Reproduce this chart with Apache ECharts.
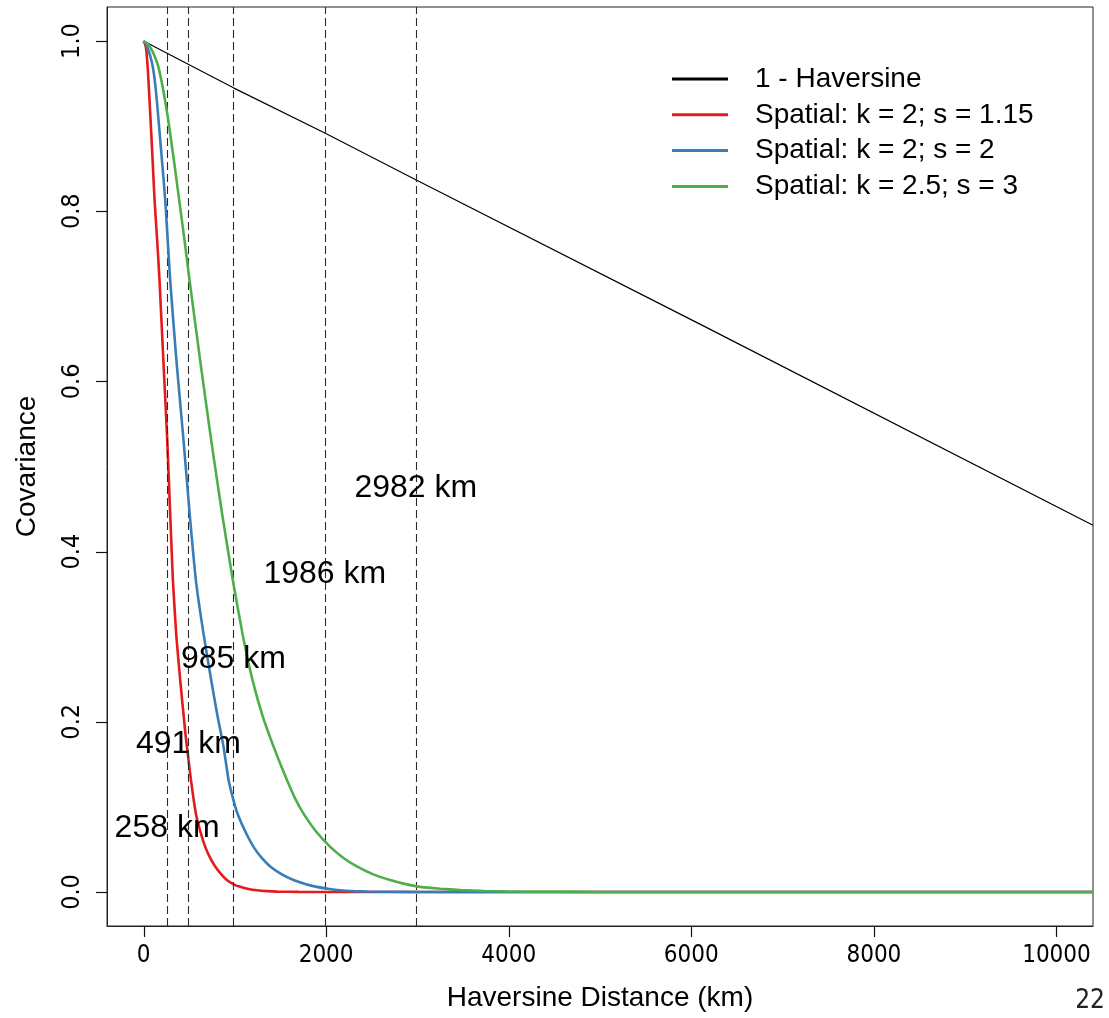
<!DOCTYPE html>
<html>
<head>
<meta charset="utf-8">
<script src="https://cdn.jsdelivr.net/npm/echarts@6/dist/echarts.min.js"></script>
<style>
html,body{margin:0;padding:0;background:#fff;}
#chart{width:1109px;height:1018px;}
</style>
</head>
<body>
<div id="chart"></div>
<script>
// ---- data ----
const seriesNames = ['1 - Haversine', 'Spatial: k = 2; s = 1.15', 'Spatial: k = 2; s = 2', 'Spatial: k = 2.5; s = 3'];
const seriesColors = ['#000000', '#E41A1C', '#377EB8', '#4DAF4A'];

const haversineLine = [[0,1.0],[985,0.945],[1986,0.892],[2982,0.837],[6100,0.667],[10400,0.431]];

const redCurve = [[0,1.0],[15,0.997],[30,0.99],[48,0.965],[66,0.93],[95,0.87],[121,0.813],[150,0.765],[175,0.719],
  [215,0.63],[260,0.531],[290,0.45],[322,0.366],[360,0.3],[402,0.249],[460,0.185],[519,0.132],[574,0.092],
  [625,0.07],[676,0.053],[730,0.04],[785,0.030],[850,0.021],[913,0.014],[985,0.009],[1059,0.006],[1150,0.0035],
  [1242,0.002],[1350,0.001],[1461,0.0004],[1700,0.0001],[2000,0],[10400,0]];

const blueCurve = [[0,1.0],[25,0.997],[50,0.99],[75,0.982],[103,0.969],[125,0.952],[146,0.93],[190,0.875],[238,0.813],
  [292,0.719],[360,0.625],[438,0.531],[505,0.445],[574,0.366],[655,0.305],[741,0.249],[810,0.207],[876,0.171],
  [931,0.132],[985,0.108],[1030,0.092],[1115,0.071],[1205,0.053],[1295,0.04],[1388,0.030],[1510,0.021],[1643,0.014],
  [1770,0.0095],[1899,0.006],[2020,0.0038],[2154,0.002],[2300,0.001],[2447,0.0005],[2700,0.0002],[3000,0],[10400,0]];

const greenCurve = [[0,1.0],[45,0.997],[92,0.989],[130,0.98],[164,0.969],[215,0.943],[267,0.91],[330,0.862],[391,0.813],
  [450,0.765],[504,0.719],[620,0.625],[741,0.531],[860,0.445],[979,0.366],[1085,0.303],[1194,0.249],[1310,0.205],
  [1424,0.171],[1500,0.15],[1570,0.132],[1660,0.11],[1753,0.092],[1890,0.071],[2045,0.053],[2190,0.04],[2337,0.030],
  [2510,0.021],[2702,0.014],[2860,0.0095],[3031,0.006],[3250,0.0038],[3469,0.0023],[3730,0.0012],[4000,0.0005],
  [4500,0.0002],[5000,0],[10400,0]];

const cutoffDistances = [258, 491, 985, 1986, 2982];
const cutoffLabels = ['258 km', '491 km', '985 km', '1986 km', '2982 km'];
const cutoffLabelY = [0.075, 0.174, 0.274, 0.373, 0.474];

const xTicks = [0, 2000, 4000, 6000, 8000, 10000];
const yTicks = [0, 0.2, 0.4, 0.6, 0.8, 1.0];

const xMin = -400, xMax = 10400, yMin = -0.04, yMax = 1.04;

// ---- chart ----
const chart = echarts.init(document.getElementById('chart'), null, {renderer: 'canvas'});
const narrow = "'Liberation Sans Narrow', 'DejaVu Sans Condensed', 'Liberation Sans', sans-serif";
const sans = "'Liberation Sans', Arial, sans-serif";

const curves = [haversineLine, redCurve, blueCurve, greenCurve];
const lineSeries = curves.map((d, i) => ({
  name: seriesNames[i],
  type: 'line',
  data: d,
  showSymbol: false,
  smooth: i === 0 ? false : 0.15,
  clip: true,
  color: seriesColors[i],
  lineStyle: {width: i === 0 ? 1.2 : 2.6, color: seriesColors[i]},
  z: 3 + i
}));

const annotationSeries = {
  name: 'cutoffs',
  type: 'scatter',
  symbolSize: 1,
  itemStyle: {opacity: 0},
  data: cutoffDistances.map((d, i) => ({value: [d, cutoffLabelY[i]], name: cutoffLabels[i]})),
  label: {
    show: true,
    position: 'inside',
    formatter: p => p.name,
    fontSize: 32,
    fontFamily: sans,
    color: '#000',
    opacity: 1
  },
  emphasis: {disabled: true},
  markLine: {
    silent: true,
    symbol: 'none',
    label: {show: false},
    lineStyle: {type: [8, 4], color: '#2a2a2a', width: 1.1, opacity: 1},
    data: cutoffDistances.map(d => ({xAxis: d}))
  },
  z: 10
};

chart.setOption({
  animation: false,
  backgroundColor: '#fff',
  grid: {left: 107, right: 16, top: 7, bottom: 92, show: true, borderColor: '#222', borderWidth: 1},
  xAxis: {
    type: 'value', min: xMin, max: xMax,
    name: 'Haversine Distance (km)', nameLocation: 'middle', nameGap: 58,
    nameTextStyle: {fontSize: 28, fontFamily: sans, color: '#000'},
    axisLine: {show: true, onZero: false, lineStyle: {color: '#222', width: 1}},
    splitLine: {show: false},
    axisTick: {show: false},
    axisLabel: {show: true, customValues: xTicks, fontSize: 24, fontFamily: narrow, color: '#000', margin: 18,
      formatter: v => String(v)}
  },
  yAxis: {
    type: 'value', min: yMin, max: yMax,
    name: 'Covariance', nameLocation: 'middle', nameGap: 66,
    nameTextStyle: {fontSize: 28, fontFamily: sans, color: '#000'},
    axisLine: {show: true, onZero: false, lineStyle: {color: '#222', width: 1}},
    splitLine: {show: false},
    axisTick: {show: false},
    axisLabel: {show: true, customValues: yTicks, rotate: 90, fontSize: 25, fontFamily: narrow, color: '#000', margin: 22,
      formatter: v => v.toFixed(1)}
  },
  legend: {
    data: seriesNames,
    orient: 'vertical',
    left: 672, top: 64,
    padding: 0,
    icon: 'rect',
    itemWidth: 56, itemHeight: 3,
    itemGap: 5.8,
    textStyle: {fontSize: 28, fontFamily: sans, color: '#000', lineHeight: 30, padding: [0, 0, 0, 22]},
    selectedMode: false
  },
  series: [...lineSeries, annotationSeries]
});

// tick marks placed through the chart's own axis scales
const tickGraphics = [];
xTicks.forEach(v => {
  const p = chart.convertToPixel({xAxisIndex: 0, yAxisIndex: 0}, [v, yMin]);
  const x = Math.round(p[0]) + 0.5;
  tickGraphics.push({type: 'line', silent: true, z: 100,
    shape: {x1: x, y1: p[1], x2: x, y2: p[1] + 11},
    style: {stroke: '#111', lineWidth: 1.2}});
});
yTicks.forEach(v => {
  const p = chart.convertToPixel({xAxisIndex: 0, yAxisIndex: 0}, [xMin, v]);
  const y = Math.round(p[1]) + 0.5;
  tickGraphics.push({type: 'line', silent: true, z: 100,
    shape: {x1: p[0], y1: y, x2: p[0] - 11, y2: y},
    style: {stroke: '#111', lineWidth: 1.2}});
});
tickGraphics.push({
  type: 'text', right: 4, top: 988,
  style: {text: '22', fontSize: 26, fontFamily: narrow, fill: '#222'}
});
chart.setOption({graphic: tickGraphics});
</script>
</body>
</html>
